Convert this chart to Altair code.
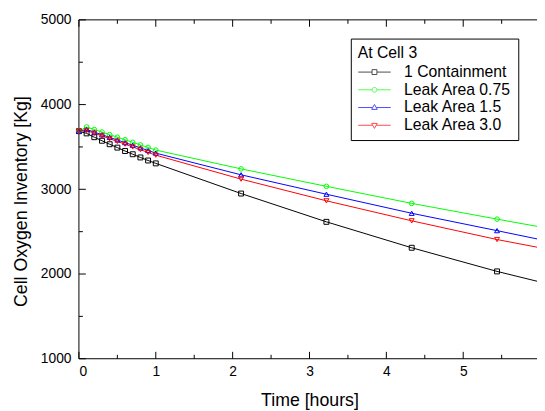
import altair as alt
import pandas as pd

# ---- data ----
times = [0, 0.1, 0.2, 0.3, 0.4, 0.5, 0.6, 0.7, 0.8, 0.9, 1.0, 2.11, 3.22, 4.33, 5.44, 6.0]
series_names = ["1 Containment", "Leak Area 0.75", "Leak Area 1.5", "Leak Area 3.0"]
containment = [3686, 3660, 3615, 3573, 3532, 3492, 3452, 3414, 3376, 3340, 3306, 2950, 2616, 2310, 2031, 1906]
leak_075 = [3686, 3736, 3706, 3676, 3645, 3615, 3585, 3554, 3524, 3494, 3463, 3241, 3035, 2834, 2648, 2556]
leak_15 = [3686, 3706, 3675, 3644, 3613, 3582, 3551, 3520, 3489, 3458, 3427, 3171, 2942, 2717, 2512, 2407]
leak_30 = [3686, 3694, 3662, 3630, 3597, 3565, 3533, 3500, 3468, 3435, 3403, 3120, 2864, 2628, 2407, 2310]

colors = ["#000000", "#00ff00", "#0000ff", "#ff0000"]
shapes = ["square", "circle", "triangle-up", "triangle-down"]
legend_shapes = [
    "M-2.2,0H-0.33M0.33,0H2.2M-0.33,-0.33H0.33V0.33H-0.33Z",
    "M-2.2,0H-0.33M0.33,0H2.2M0.33,0A0.33,0.33,0,1,1,-0.33,0A0.33,0.33,0,1,1,0.33,0Z",
    "M-2.2,0H-0.25M0.25,0H2.2M0,-0.42L0.38,0.25L-0.38,0.25Z",
    "M-2.2,0H-0.25M0.25,0H2.2M0,0.42L0.38,-0.25L-0.38,-0.25Z",
]
x_domain = [0, 5.96]
y_domain = [1000, 5000]
x_major = [0, 1, 2, 3, 4, 5]
x_minor = [0.5, 1.5, 2.5, 3.5, 4.5, 5.5]
y_major = [1000, 2000, 3000, 4000, 5000]
y_minor = [1500, 2500, 3500, 4500]

PLOT_W, PLOT_H = 465, 344
MAJOR_PX, MINOR_PX = 7, 4

rows = []
for name, vals in zip(series_names, [containment, leak_075, leak_15, leak_30]):
    for t, v in zip(times, vals):
        rows.append({"t": t, "v": v, "series": name})
df = pd.DataFrame(rows)

# frame (left, bottom, top edges) and inward ticks, as 2-point segments
px_t = (x_domain[1] - x_domain[0]) / PLOT_W
px_v = (y_domain[1] - y_domain[0]) / PLOT_H
segs = [
    ("left", (x_domain[0], y_domain[0]), (x_domain[0], y_domain[1])),
    ("bottom", (x_domain[0], y_domain[0]), (x_domain[1], y_domain[0])),
    ("top", (x_domain[0], y_domain[1]), (x_domain[1], y_domain[1])),
]
for vals, n in ((x_major, MAJOR_PX), (x_minor, MINOR_PX)):
    for t in vals:
        segs.append((f"xb{t}", (t, y_domain[0]), (t, y_domain[0] + n * px_v)))
        segs.append((f"xt{t}", (t, y_domain[1]), (t, y_domain[1] - n * px_v)))
for vals, n in ((y_major, MAJOR_PX), (y_minor, MINOR_PX)):
    for v in vals:
        segs.append((f"yl{v}", (x_domain[0], v), (x_domain[0] + n * px_t, v)))
frame_rows = []
for name, p0, p1 in segs:
    frame_rows.append({"seg": name, "idx": 0, "t": p0[0], "v": p0[1]})
    frame_rows.append({"seg": name, "idx": 1, "t": p1[0], "v": p1[1]})
frame_df = pd.DataFrame(frame_rows)

FONT = "Liberation Sans"
xscale = alt.Scale(domain=x_domain, nice=False, zero=False)
yscale = alt.Scale(domain=y_domain, nice=False, zero=False)
color_scale = alt.Scale(domain=series_names, range=colors)

x_axis = alt.Axis(orient="bottom", values=x_major, format="d", grid=False,
                  ticks=False, domain=False,
                  labelPadding=6, labelFontSize=14, labelFont=FONT,
                  labelColor="black", title="Time [hours]", titleFont=FONT,
                  titleColor="black", titleFontSize=18,
                  titleFontWeight="normal", titleX=234, titleY=47,
                  titleBaseline="alphabetic", titleAlign="center")
y_axis = alt.Axis(orient="left", values=y_major, format="d", grid=False,
                  ticks=False, domain=False,
                  labelPadding=8, labelFontSize=14, labelFont=FONT,
                  labelColor="black", title="Cell Oxygen Inventory [Kg]",
                  titleFont=FONT, titleColor="black", titleFontSize=18,
                  titleFontWeight="normal", titleAngle=270, titleX=-53,
                  titleY=184, titleBaseline="alphabetic", titleAlign="center")

legend_props = dict(
    title="At Cell 3", orient="top-right", offset=19,
    titleFont=FONT, titleFontSize=16, titleFontWeight="normal", titleColor="black",
    labelFont=FONT, labelFontSize=16, labelColor="black", labelLimit=300,
    symbolSize=225, symbolStrokeWidth=1, symbolOffset=9, labelOffset=22, padding=7,
    strokeColor="#000000", fillColor="#ffffff", rowPadding=2, titlePadding=3,
)

base = alt.Chart(df)

# first layer: carries the merged colour + shape legend (its own marks are
# pushed out of the clipped view)
legend_carrier = base.transform_filter(alt.datum.t < 5.9).mark_point(
    filled=False, strokeWidth=1, clip=True
).encode(
    x=alt.X("t:Q", scale=xscale, axis=x_axis),
    y=alt.Y("v:Q", scale=yscale, axis=y_axis),
    yOffset=alt.value(2000),
    color=alt.Color("series:N", scale=color_scale, legend=alt.Legend(**legend_props)),
    shape=alt.Shape("series:N", scale=alt.Scale(domain=series_names, range=legend_shapes),
                    legend=alt.Legend(**legend_props)),
)

frame = alt.Chart(frame_df).mark_line(color="#000000", strokeWidth=1).encode(
    x=alt.X("t:Q", scale=xscale, axis=x_axis),
    y=alt.Y("v:Q", scale=yscale, axis=y_axis),
    detail="seg:N",
    order="idx:Q",
)

lines = base.mark_line(strokeWidth=1, clip=True).encode(
    x=alt.X("t:Q", scale=xscale, axis=x_axis),
    y=alt.Y("v:Q", scale=yscale, axis=y_axis),
    color=alt.Color("series:N", scale=color_scale, legend=None),
)

point_layers = []
for name, shp in zip(series_names, shapes):
    point_layers.append(
        base.transform_filter((alt.datum.series == name) & (alt.datum.t < 5.9))
        .mark_point(shape=shp, filled=False, strokeWidth=1,
                    size=25 if shp != "circle" else 22, opacity=1)
        .encode(
            x=alt.X("t:Q", scale=xscale),
            y=alt.Y("v:Q", scale=yscale),
            color=alt.Color("series:N", scale=color_scale, legend=None),
        )
    )

chart = alt.layer(legend_carrier, frame, lines, *point_layers).properties(
    width=PLOT_W, height=PLOT_H,
    padding={"left": 72, "top": 9, "right": 0, "bottom": 50},
    autosize=alt.AutoSizeParams(type="none"),
).configure_view(stroke=None)

chart.save("out.html", embed_options={"renderer": "svg", "actions": False})
